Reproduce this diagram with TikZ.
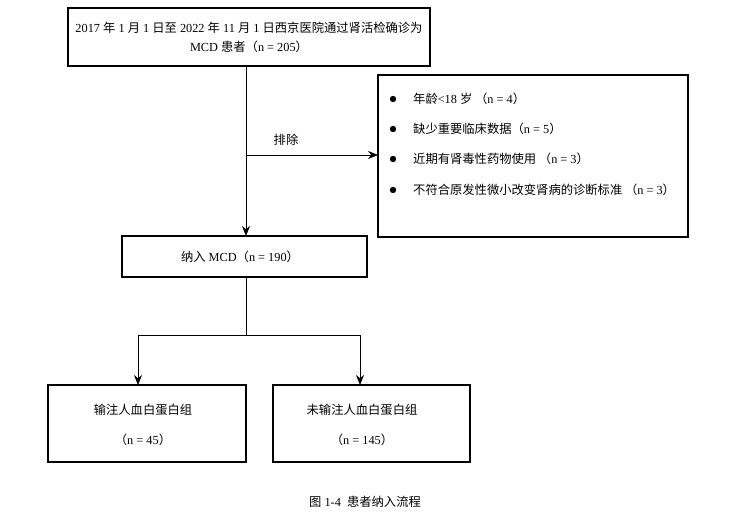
\documentclass[tikz,border=0pt]{standalone}
\usepackage{fontspec}
\setmainfont{Liberation Serif}
\newfontfamily\cjk{Noto Sans CJK SC}
\usetikzlibrary{arrows.meta}
\begin{document}
\begin{tikzpicture}[x=1pt,y=-1pt,
  box/.style={draw,line width=1.3pt},
  arr/.style={line width=1pt,-{Stealth[length=10pt,width=8pt]}},
  ln/.style={line width=1pt},
  t/.style={font=\fontsize{12.3}{15}\selectfont,inner sep=0pt}]
\useasboundingbox (0,0) rectangle (729,527);
\draw[box] (68,8) rectangle (430,66);
\node[t,align=center] (top) at (249,37) {2017 {\cjk 年} 1 {\cjk 月} 1 {\cjk 日至} 2022 {\cjk 年} 11 {\cjk 月} 1 {\cjk 日西京医院通过肾活检确诊为}\\[4pt]MCD {\cjk 患者（}n = 205{\cjk ）}};
\coordinate (tb) at (246,66);
\draw[box] (378,75) rectangle (688,237);
\coordinate (rl) at (378,155);
\foreach \y/\s in {99/{{\cjk 年龄}<18 {\cjk 岁\ （}n = 4{\cjk ）}},129/{{\cjk 缺少重要临床数据（}n = 5{\cjk ）}},159/{{\cjk 近期有肾毒性药物使用\ （}n = 3{\cjk ）}},190/{{\cjk 不符合原发性微小改变肾病的诊断标准\ （}n = 3{\cjk ）}}}{
  \fill (393,\y) circle (3.2pt);
  \node[t,anchor=west] at (413,\y) {\s};
}
\draw[box] (122,236) rectangle (367,277);
\node[t] (mid) at (240,257) {{\cjk 纳入} MCD{\cjk （}n = 190{\cjk ）}};
\draw[arr] (tb) -- (246,236);
\draw[arr] (246,155) -- (rl);
\node[t] (ex) at (286,140) {\cjk 排除};
\draw[box] (48,385) rectangle (246,462);
\draw[box] (273,385) rectangle (470,462);
\node[t] (l1) at (143,410) {\cjk 输注人血白蛋白组};
\node[t] (l2) at (143,440) {{\cjk （}n = 45{\cjk ）}};
\node[t] (r1) at (362,410) {\cjk 未输注人血白蛋白组};
\node[t] (r2) at (362,440) {{\cjk （}n = 145{\cjk ）}};
\draw[ln] (246,277) -- (246,335);
\draw[ln] (138,335) -- (360,335);
\draw[arr] (138,335) -- (138,385);
\draw[arr] (360,335) -- (360,385);
\node[t] (cap) at (365,502) {{\cjk 图} 1-4\ \ {\cjk 患者纳入流程}};
\end{tikzpicture}
\end{document}
